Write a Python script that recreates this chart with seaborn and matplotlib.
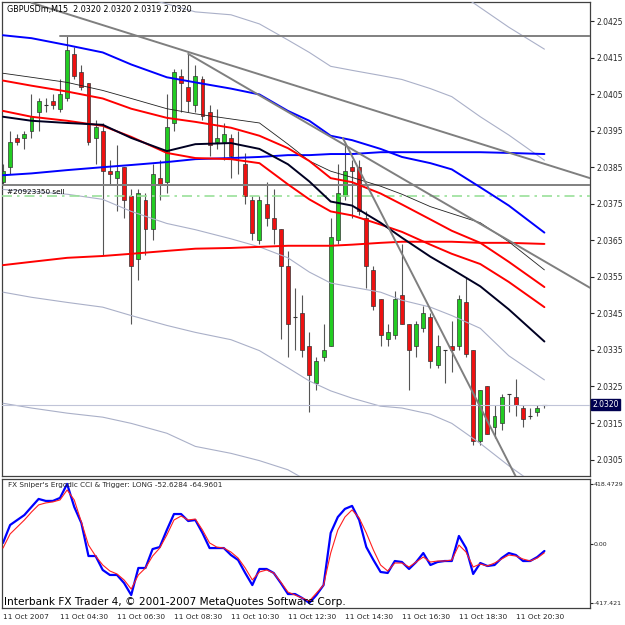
import matplotlib
matplotlib.use("Agg")
import matplotlib.transforms as mtransforms
import pandas as pd
import seaborn as sns
from matplotlib import pyplot as plt

sns.set_style("white")
plt.rcParams["font.family"] = ["DejaVu Sans"]

# GBPUSDm M15 candles, 11 Oct 2007 02:30 .. 21:15
opens = [2.0381, 2.0385, 2.0393, 2.0393, 2.0395, 2.0400, 2.0402, 2.0403, 2.0401, 2.0404,
         2.0416, 2.0411, 2.0408, 2.0393, 2.0395, 2.0384, 2.0382, 2.0385, 2.0377, 2.0360,
         2.0376, 2.0368, 2.0382, 2.0381, 2.0397, 2.0410, 2.0407, 2.0402, 2.0409, 2.0400,
         2.0392, 2.0392, 2.0393, 2.0387, 2.0386, 2.0376, 2.0365, 2.0375, 2.0371, 2.0368,
         2.0358, 2.0344, 2.0345, 2.0336, 2.0326, 2.0333, 2.0336, 2.0365, 2.0377, 2.0385,
         2.0385, 2.0371, 2.0357, 2.0349, 2.0338, 2.0339, 2.0350, 2.0342, 2.0336, 2.0341,
         2.0344, 2.0331, 2.0335, 2.0336, 2.0336, 2.0348, 2.0335, 2.0310, 2.0325, 2.0314,
         2.0315, 2.0323, 2.0322, 2.0319, 2.0317, 2.0318, 2.0320]
highs = [2.0386, 2.0395, 2.0394, 2.0395, 2.0405, 2.0404, 2.0404, 2.0405, 2.0409, 2.0421,
         2.0418, 2.0413, 2.0408, 2.0398, 2.0397, 2.0387, 2.0391, 2.0385, 2.0379, 2.0379,
         2.0378, 2.0386, 2.0387, 2.0405, 2.0412, 2.0412, 2.0416, 2.0413, 2.0410, 2.0402,
         2.0401, 2.0397, 2.0394, 2.0395, 2.0389, 2.0377, 2.0377, 2.0381, 2.0379, 2.0368,
         2.0362, 2.0352, 2.0350, 2.0340, 2.0333, 2.0342, 2.0371, 2.0386, 2.0392, 2.0387,
         2.0387, 2.0373, 2.0358, 2.0349, 2.0342, 2.0351, 2.0364, 2.0342, 2.0343, 2.0347,
         2.0345, 2.0339, 2.0335, 2.0343, 2.0350, 2.0355, 2.0335, 2.0324, 2.0325, 2.0320,
         2.0323, 2.0323, 2.0327, 2.0320, 2.0319, 2.0320, 2.0320]
lows = [2.0380, 2.0383, 2.0391, 2.0390, 2.0393, 2.0395, 2.0400, 2.0401, 2.0400, 2.0403,
        2.0409, 2.0406, 2.0391, 2.0386, 2.0361, 2.0380, 2.0373, 2.0371, 2.0342, 2.0354,
        2.0361, 2.0365, 2.0376, 2.0378, 2.0395, 2.0400, 2.0400, 2.0400, 2.0398, 2.0388,
        2.0390, 2.0387, 2.0382, 2.0383, 2.0375, 2.0365, 2.0364, 2.0369, 2.0364, 2.0338,
        2.0333, 2.0335, 2.0333, 2.0318, 2.0324, 2.0332, 2.0336, 2.0364, 2.0376, 2.0371,
        2.0372, 2.0352, 2.0346, 2.0336, 2.0336, 2.0338, 2.0342, 2.0324, 2.0333, 2.0340,
        2.0330, 2.0330, 2.0326, 2.0329, 2.0335, 2.0333, 2.0309, 2.0309, 2.0312, 2.0311,
        2.0313, 2.0318, 2.0317, 2.0314, 2.0316, 2.0317, 2.0319]
closes = [2.0384, 2.0392, 2.0392, 2.0394, 2.0399, 2.0403, 2.0402, 2.0402, 2.0405, 2.0417,
          2.0410, 2.0407, 2.0392, 2.0396, 2.0384, 2.0383, 2.0384, 2.0376, 2.0358, 2.0378,
          2.0368, 2.0383, 2.0380, 2.0396, 2.0411, 2.0408, 2.0403, 2.0410, 2.0399, 2.0391,
          2.0393, 2.0394, 2.0388, 2.0387, 2.0377, 2.0367, 2.0376, 2.0371, 2.0368, 2.0358,
          2.0342, 2.0344, 2.0335, 2.0328, 2.0332, 2.0335, 2.0366, 2.0378, 2.0384, 2.0384,
          2.0373, 2.0358, 2.0347, 2.0339, 2.0340, 2.0349, 2.0342, 2.0335, 2.0342, 2.0345,
          2.0332, 2.0336, 2.0335, 2.0335, 2.0349, 2.0334, 2.0310, 2.0324, 2.0312, 2.0317,
          2.0322, 2.0323, 2.0320, 2.0316, 2.0317, 2.0319, 2.0320]

# indicator lines, read at these bar indices
line_idx = [0, 4, 9, 14, 18, 23, 27, 32, 36, 40, 43, 46, 49, 53, 56, 60, 63, 67, 71, 76]
blue_fast = [2.04211, 2.04203, 2.04184, 2.04164, 2.04131, 2.04096, 2.04082, 2.04065, 2.04049, 2.04004,
             2.03977, 2.03936, 2.03924, 2.03900, 2.03878, 2.03861, 2.03844, 2.03795, 2.03745, 2.03671]
blue_slow = [2.03828, 2.03833, 2.03842, 2.03850, 2.03856, 2.03864, 2.03872, 2.03875, 2.03878, 2.03883,
             2.03883, 2.03886, 2.03886, 2.03891, 2.03891, 2.03891, 2.03891, 2.03891, 2.03889, 2.03886]
black_thick = [2.03988, 2.03977, 2.03971, 2.03966, 2.03930, 2.03894, 2.03913, 2.03916, 2.03900, 2.03858,
               2.03811, 2.03756, 2.03745, 2.03698, 2.03657, 2.03605, 2.03571, 2.03524, 2.03461, 2.03373]
black_thin = [2.04107, 2.04096, 2.04082, 2.04060, 2.04038, 2.04010, 2.03996, 2.03982, 2.03971, 2.03913,
              2.03867, 2.03839, 2.03822, 2.03798, 2.03776, 2.03742, 2.03723, 2.03698, 2.03646, 2.03569]
red_a = [2.04087, 2.04073, 2.04057, 2.04038, 2.04010, 2.03985, 2.03974, 2.03958, 2.03936, 2.03902,
         2.03867, 2.03820, 2.03809, 2.03778, 2.03748, 2.03707, 2.03676, 2.03643, 2.03591, 2.03522]
red_b = [2.04004, 2.03988, 2.03977, 2.03963, 2.03933, 2.03889, 2.03875, 2.03872, 2.03861, 2.03803,
         2.03762, 2.03729, 2.03718, 2.03693, 2.03673, 2.03638, 2.03613, 2.03585, 2.03536, 2.03467]
red_slow = [2.03582, 2.03591, 2.03602, 2.03607, 2.03613, 2.03621, 2.03627, 2.03629, 2.03632, 2.03635,
            2.03635, 2.03635, 2.03638, 2.03643, 2.03646, 2.03646, 2.03646, 2.03643, 2.03643, 2.03640]
env_low1 = [2.03789, 2.03784, 2.03776, 2.03762, 2.03729, 2.03696, 2.03679, 2.03654, 2.03632, 2.03602,
            2.03563, 2.03533, 2.03522, 2.03508, 2.03486, 2.03467, 2.03444, 2.03409, 2.03334, 2.03268]
env_low2 = [2.03508, 2.03494, 2.03480, 2.03467, 2.03444, 2.03417, 2.03398, 2.03378, 2.03348, 2.03301,
            2.03265, 2.03238, 2.03218, 2.03196, 2.03191, 2.03174, 2.03149, 2.03094, 2.03033, 2.02964]
env_low3_idx = [0, 4, 9, 14, 18, 23, 27, 32, 36, 40, 43]
env_low3 = [2.03204, 2.03191, 2.03177, 2.03166, 2.03149, 2.03122, 2.03086, 2.03067, 2.03047, 2.03022, 2.02989]
env_up1_idx = [20, 27, 32, 36, 40, 43, 46, 49, 53, 56, 60, 63, 67, 71, 76]
env_up1 = [2.04313, 2.04275, 2.04267, 2.04242, 2.04198, 2.04164, 2.04126, 2.04115, 2.04101, 2.04090,
           2.04065, 2.04043, 2.03988, 2.03938, 2.03869]
env_up2_idx = [62, 66, 71, 76]
env_up2 = [2.04349, 2.04300, 2.04233, 2.04173]

# trend lines (bar index, price) and horizontal levels
trend_lines = [([4.0, 82.4], [2.0430, 2.0382]),
               ([26.0, 82.4], [2.0416, 2.0352]),
               ([47.7, 76.0], [2.0393, 2.0285])]
level_high = 2.0421
level_mid = 2.0380
order_price = 2.0377
last_price = 2.0320

# Ergodic CCI (blue) and trigger (red)
cci = [4, 130, 165, 200, 257, 313, 299, 299, 320, 418.4729,
       257, 144, -88, -88, -186, -221, -221, -278, -362, -172,
       -172, -39, -25, 95, 207, 207, 158, 165, 74, -32,
       -32, -32, -81, -116, -207, -292, -179, -179, -207, -278,
       -355, -355, -383, -417.421, -362, -292, 74, 186, 243, 264,
       165, -25, -116, -200, -207, -123, -130, -179, -130, -67,
       -151, -130, -123, -123, 53, -32, -214, -137, -158, -151,
       -102, -67, -81, -123, -123, -95, -52.6284]
trigger = [-32, 67, 116, 165, 221, 271, 285, 292, 306, 376,
           306, 151, -11, -88, -151, -193, -214, -256, -320, -221,
           -172, -88, -32, 60, 165, 193, 165, 172, 95, 4,
           -25, -32, -60, -102, -172, -256, -200, -186, -207, -271,
           -341, -362, -383, -404, -348, -292, -67, 95, 186, 236,
           179, 74, -46, -151, -193, -137, -137, -165, -130, -95,
           -130, -123, -123, -116, -11, -60, -165, -144, -158, -137,
           -109, -81, -88, -109, -123, -102, -64.9601]

time_ticks = [0, 8, 16, 24, 32, 40, 48, 56, 64, 72]
time_labels = ["11 Oct 2007", "11 Oct 04:30", "11 Oct 06:30", "11 Oct 08:30", "11 Oct 10:30",
               "11 Oct 12:30", "11 Oct 14:30", "11 Oct 16:30", "11 Oct 18:30", "11 Oct 20:30"]
price_ticks = [2.0305, 2.0315, 2.0325, 2.0335, 2.0345, 2.0355, 2.0365,
               2.0375, 2.0385, 2.0395, 2.0405, 2.0415, 2.0425]

bars = pd.DataFrame({"open": opens, "high": highs, "low": lows, "close": closes})
bars["i"] = range(len(bars))
bars["bottom"] = bars[["open", "close"]].min(axis=1)
bars["height"] = (bars["close"] - bars["open"]).abs()

fig = plt.figure(figsize=(6.25, 6.25), dpi=100)
ax = fig.add_axes([0.0032, 0.2384, 0.9408, 0.7584])
sub = fig.add_axes([0.0032, 0.0272, 0.9408, 0.2064])
xlim = (-0.14, 82.4)

# candles
ax.vlines(bars["i"], bars["low"], bars["high"], color="#555555", linewidth=0.8, zorder=2)
up = bars[bars["close"] > bars["open"]]
down = bars[bars["close"] < bars["open"]]
flat = bars[bars["close"] == bars["open"]]
ax.bar(up["i"], up["height"], bottom=up["bottom"], width=0.55, color="#22cc22",
       edgecolor="#333333", linewidth=0.5, zorder=2)
ax.bar(down["i"], down["height"], bottom=down["bottom"], width=0.55, color="#ee1111",
       edgecolor="#333333", linewidth=0.5, zorder=2)
ax.hlines(flat["open"], flat["i"] - 0.3, flat["i"] + 0.3, color="#333333", linewidth=0.8, zorder=2)

# envelopes
env_color = "#aab0c8"
for xs, ys in [(line_idx, env_low1), (line_idx, env_low2), (env_low3_idx, env_low3),
               (env_up1_idx, env_up1), (env_up2_idx, env_up2)]:
    sns.lineplot(x=xs, y=ys, ax=ax, color=env_color, linewidth=0.8, zorder=3, legend=False)

# horizontal levels
sns.lineplot(x=[8, xlim[1]], y=[level_high, level_high], ax=ax, color="#808080", linewidth=1.4, zorder=3)
sns.lineplot(x=list(xlim), y=[level_mid, level_mid], ax=ax, color="#808080", linewidth=1.4, zorder=3)
ax.plot(list(xlim), [order_price, order_price], color="#99e099", linewidth=1.2,
        linestyle=(0, (6, 3, 1.5, 3)), zorder=3)
sns.lineplot(x=list(xlim), y=[last_price, last_price], ax=ax, color="#c0c4d8", linewidth=0.8, zorder=3)

# moving averages
for ys, color, lw in [(red_slow, "#ff0000", 1.4), (blue_slow, "#0000ff", 1.4),
                      (black_thin, "#202020", 0.6), (red_a, "#ff0000", 1.4),
                      (red_b, "#ff0000", 1.4), (black_thick, "#000022", 1.4),
                      (blue_fast, "#0000ff", 1.4)]:
    sns.lineplot(x=line_idx, y=ys, ax=ax, color=color, linewidth=lw, zorder=4, legend=False)

for xs, ys in trend_lines:
    sns.lineplot(x=xs, y=ys, ax=ax, color="#7f7f7f", linewidth=1.4, zorder=5, legend=False)

ax.set_xlim(*xlim)
ax.set_ylim(2.03005, 2.04302)
ax.set_xticks([])
ax.yaxis.tick_right()
ax.set_yticks(price_ticks)
ax.set_yticklabels([f"{p:.4f}" for p in price_ticks])
ax.tick_params(axis="y", direction="out", length=3, width=0.8, labelsize=5.5, pad=1.5)
ax.set_xlabel("")
ax.set_ylabel("")

ax.text(0.008, 0.993, "GBPUSDm,M15  2.0320 2.0320 2.0319 2.0320", transform=ax.transAxes,
        va="top", ha="left", fontsize=5.8, color="#000000", zorder=6)
ax.text(0.55, order_price + 0.00005, "#20923350 sell", va="bottom", ha="left",
        fontsize=5.2, color="#000000", zorder=6)
trans = mtransforms.blended_transform_factory(ax.transAxes, ax.transData)
ax.text(1.004, last_price, "2.0320", transform=trans, ha="left", va="center", fontsize=5.5,
        color="white", clip_on=False, zorder=10,
        bbox=dict(boxstyle="square,pad=0.15", fc="#000050", ec="#000050"))

# ergodic CCI panel
cci_idx = list(range(len(cci)))
sns.lineplot(x=cci_idx, y=trigger, ax=sub, color="#ff2020", linewidth=0.8, zorder=3, legend=False)
sns.lineplot(x=cci_idx, y=cci, ax=sub, color="#0000ff", linewidth=1.6, zorder=2, legend=False)
sub.set_xlim(*xlim)
sub.set_ylim(-453, 453)
sub.yaxis.tick_right()
sub.set_yticks([418.4729, 0, -417.421])
sub.set_yticklabels(["418.4729", "0.00", "-417.421"])
sub.set_xticks(time_ticks)
sub.set_xticklabels(time_labels)
for lbl in sub.get_xticklabels():
    lbl.set_horizontalalignment("left")
sub.tick_params(axis="y", direction="out", length=2, width=0.8, labelsize=4.5, pad=0.8)
sub.tick_params(axis="x", direction="out", length=3, width=0.8, labelsize=5.3, pad=1.5)
sub.set_xlabel("")
sub.set_ylabel("")
sub.text(0.01, 0.975, "FX Sniper's Ergodic CCI & Trigger: LONG -52.6284 -64.9601",
         transform=sub.transAxes, va="top", ha="left", fontsize=5.2)
sub.text(0.004, 0.005, "Interbank FX Trader 4, \u00a9 2001-2007 MetaQuotes Software Corp.",
         transform=sub.transAxes, va="bottom", ha="left", fontsize=7.6, color="#000000", zorder=6)

for a in (ax, sub):
    for spine in a.spines.values():
        spine.set_color("#404040")
        spine.set_linewidth(0.9)

fig.savefig("out.png", dpi=100, facecolor="white")
